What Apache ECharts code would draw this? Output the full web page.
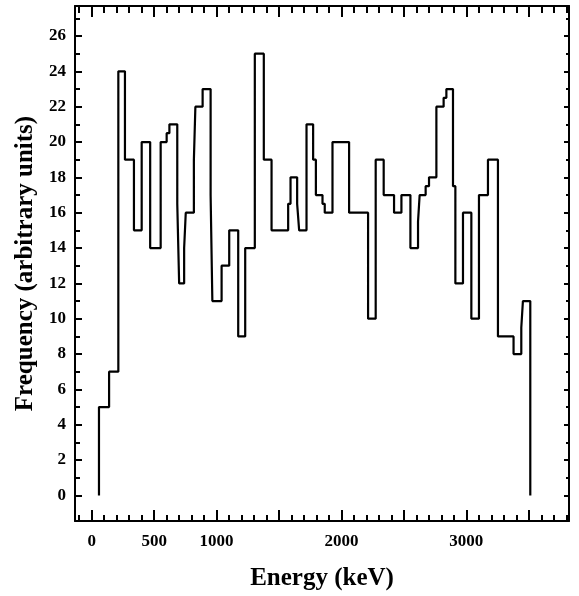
<!DOCTYPE html>
<html lang="en">
<head>
    <meta charset="UTF-8">
    <title>Energy histogram</title>
    <script src="https://cdn.jsdelivr.net/npm/echarts@6/dist/echarts.min.js"></script>
    <style>
        html, body { margin: 0; padding: 0; background: #fff; }
    </style>
</head>
<body>
    <div id="ec" style="width:579px;height:596px"></div>
</body>
<script>
    // bin edges (keV) and counts per bin
    var binEdges = [58, 139, 213, 266, 338, 400, 468, 552, 600, 622,
        685, 700, 740, 753, 818, 830, 888, 952, 966, 1040,
        1101, 1173, 1229, 1306, 1378, 1440, 1573, 1592, 1645, 1661,
        1720, 1773, 1795, 1848, 1866, 1928, 2061, 2213, 2274, 2338,
        2421, 2480, 2552, 2613, 2626, 2674, 2701, 2760, 2818, 2840,
        2893, 2912, 2973, 3040, 3101, 3173, 3253, 3378, 3440, 3453,
        3512]
    var binCounts = [5, 7, 24, 19, 15, 20, 14, 20, 20.5, 21,
        16.5, 12, 14, 16, 19, 22, 23, 17, 11, 13,
        15, 9, 14, 25, 19, 15, 16.5, 18, 16.5, 15,
        21, 19, 17, 16.5, 16, 20, 16, 10, 19, 17,
        16, 17, 14, 15.5, 17, 17.5, 18, 22, 22.5, 23,
        17.5, 12, 16, 10, 17, 19, 9, 8, 9.5, 11]

    var xMajor = [0, 500, 1000, 1500, 2000, 2500, 3000, 3500]
    var xLabels = [0, 500, 1000, 2000, 3000]
    var xMinor = []
    for (var i = -100; i <= 3800; i += 100) xMinor.push(i)
    var yMajor = [0, 2, 4, 6, 8, 10, 12, 14, 16, 18, 20, 22, 24, 26]
    var yMinor = [1, 3, 5, 7, 9, 11, 13, 15, 17, 19, 21, 23, 25, 27]

    // step outline of the histogram
    var pts = [[binEdges[0], 0]]
    for (var k = 0; k < binCounts.length; k++) {
        pts.push([binEdges[k], binCounts[k]])
        pts.push([binEdges[k + 1], binCounts[k]])
    }
    pts.push([binEdges[binEdges.length - 1], 0])

    var XMIN = -134, XMAX = 3822, YMIN = -1.45, YMAX = 27.7
    var font = 'Liberation Serif'
    var black = '#000'

    function plain(v) { return String(v) }

    function xAx(pos, ticks, len, line, labels) {
        return {
            type: 'value', position: pos, min: XMIN, max: XMAX,
            axisLine: { show: line, onZero: false, lineStyle: { color: black, width: 2 } },
            axisTick: { show: true, inside: true, length: len, customValues: ticks,
                lineStyle: { color: black, width: 2 } },
            axisLabel: labels ? { show: true, customValues: labels, margin: 12, color: black,
                formatter: plain, fontFamily: font, fontWeight: 'bold', fontSize: 17 } : { show: false },
            splitLine: { show: false }
        }
    }
    function yAx(pos, ticks, len, line, labels) {
        return {
            type: 'value', position: pos, min: YMIN, max: YMAX,
            axisLine: { show: line, onZero: false, lineStyle: { color: black, width: 2 } },
            axisTick: { show: true, inside: true, length: len, customValues: ticks,
                lineStyle: { color: black, width: 2 } },
            axisLabel: labels ? { show: true, customValues: labels, margin: 9, color: black,
                formatter: plain, fontFamily: font, fontWeight: 'bold', fontSize: 17 } : { show: false },
            splitLine: { show: false }
        }
    }

    var xMain = xAx('bottom', xMajor, 11, true, xLabels)
    xMain.name = 'Energy (keV)'
    xMain.nameLocation = 'middle'
    xMain.nameGap = 45
    xMain.nameTextStyle = { fontFamily: font, fontWeight: 'bold', fontSize: 25, color: black }

    var yMain = yAx('left', yMajor, 7, true, yMajor)
    yMain.name = 'Frequency (arbitrary units)'
    yMain.nameLocation = 'middle'
    yMain.nameGap = 35
    yMain.nameTextStyle = { fontFamily: font, fontWeight: 'bold', fontSize: 25, color: black }

    var mychart = echarts.init(document.getElementById('ec'))
    var options = {
        animation: false,
        backgroundColor: '#fff',
        grid: { left: 75, right: 10, top: 6, bottom: 73 },
        xAxis: [
            xMain,
            xAx('bottom', xMinor, 6, false, null),
            xAx('top', xMajor, 11, true, null),
            xAx('top', xMinor, 7, false, null)
        ],
        yAxis: [
            yMain,
            yAx('left', yMinor, 5, false, null),
            yAx('right', yMajor, 5, true, null),
            yAx('right', yMinor, 3, false, null)
        ],
        series: [{
            type: 'line',
            xAxisIndex: 0,
            yAxisIndex: 0,
            data: pts,
            symbol: 'none',
            lineStyle: { color: black, width: 2.2 }
        }]
    }
    mychart.setOption(options)
</script>
</html>
